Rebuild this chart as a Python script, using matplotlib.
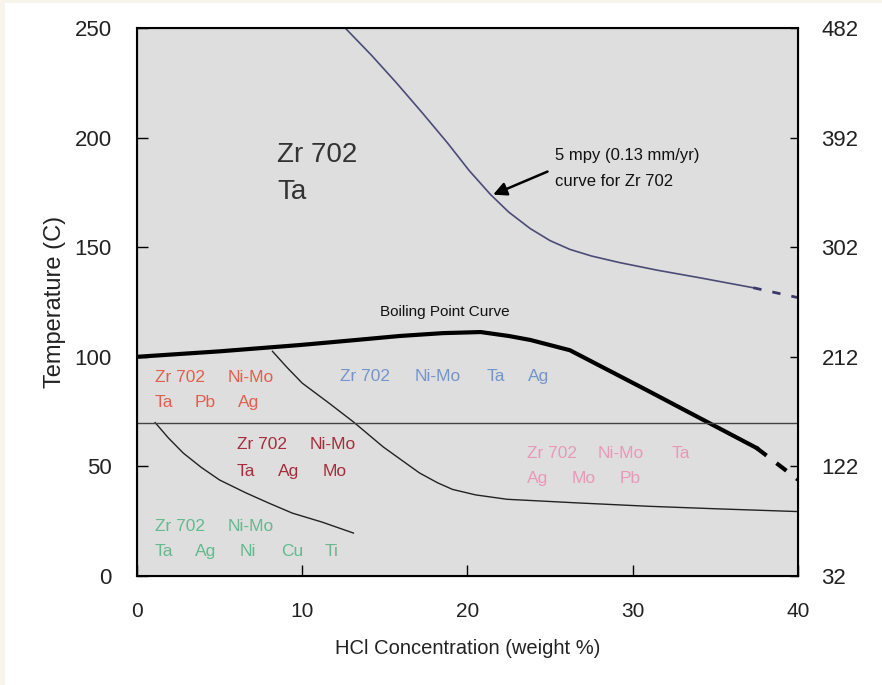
import numpy as np
import matplotlib
matplotlib.use('Agg')
import matplotlib.pyplot as plt
from matplotlib.patches import Rectangle

plt.rcParams['font.family'] = ['Liberation Sans', 'DejaVu Sans']

# 5 mpy iso-corrosion curve for Zr 702
mpy_x = [12.6, 14.2, 15.7, 17.3, 18.8, 20.1, 21.4, 22.5, 23.8, 25.0, 26.2, 27.5, 29.2, 31.5, 34.1, 37.3]
mpy_y = [250, 237.5, 225, 211, 197.5, 185, 174, 166, 158.5, 153, 149, 146, 143, 139.5, 136, 131.5]
mpy_ext_x = [37.3, 40]
mpy_ext_y = [131.5, 127]

# boiling point curve
bp_x = [0, 5, 9.9, 13, 15.9, 18.5, 20.8, 22.5, 23.8, 26.2, 30.8, 37.5]
bp_y = [100, 102.5, 105.4, 107.5, 109.5, 110.8, 111.3, 109.5, 107.7, 103, 85, 58.4]
bp_ext_x = [37.5, 40]
bp_ext_y = [58.4, 44]

# upper boundary curve
a_x = [8.2, 9.1, 10.0, 11.6, 13.1, 14.9, 17.1, 18.2, 19.1, 20.5, 22.4, 26.8, 31, 35.3, 40]
a_y = [102.5, 95, 88, 79, 70.3, 58.9, 47, 42.5, 39.5, 37, 35, 33.3, 31.8, 30.6, 29.4]

# lower boundary curve
b_x = [1.1, 1.9, 2.8, 3.9, 5.0, 6.6, 8.0, 9.4, 11.2, 13.1]
b_y = [70, 63, 56.1, 49.5, 43.8, 37.9, 33.2, 28.7, 24.6, 19.6]

# horizontal 70 C line
h_x = [0, 40]
h_y = [70, 70]

xticks = [0, 10, 20, 30, 40]
yticks = [0, 50, 100, 150, 200, 250]
fticks = [32, 122, 212, 302, 392, 482]

# region labels: (word, x, y)
red_words = [('Zr 702', 1.09, 90.5), ('Ni-Mo', 5.5, 90.5), ('Ta', 1.09, 79), ('Pb', 3.5, 79), ('Ag', 6.1, 79)]
blue_words = [('Zr 702', 12.28, 90.8), ('Ni-Mo', 16.82, 90.8), ('Ta', 21.18, 90.8), ('Ag', 23.66, 90.8)]
dred_words = [('Zr 702', 6.05, 59.8), ('Ni-Mo', 10.47, 59.8), ('Ta', 6.05, 47.9), ('Ag', 8.55, 47.9), ('Mo', 11.26, 47.9)]
pink_words = [('Zr 702', 23.58, 56.1), ('Ni-Mo', 27.9, 56.1), ('Ta', 32.37, 56.1), ('Ag', 23.58, 44.3), ('Mo', 26.3, 44.3), ('Pb', 29.23, 44.3)]
green_words = [('Zr 702', 1.09, 22.8), ('Ni-Mo', 5.5, 22.8), ('Ta', 1.09, 11.4), ('Ag', 3.5, 11.4), ('Ni', 6.23, 11.4), ('Cu', 8.75, 11.4), ('Ti', 11.38, 11.4)]

fig = plt.figure(figsize=(8.82, 6.85), dpi=100)
fig.patch.set_facecolor('white')
# cream border strips
fig.patches.append(Rectangle((0, 0), 0.006, 1, transform=fig.transFigure, facecolor='#f7f4ec', edgecolor='none'))
fig.patches.append(Rectangle((0, 0.995), 1, 0.005, transform=fig.transFigure, facecolor='#f7f4ec', edgecolor='none'))

ax = fig.add_axes([0.1553, 0.1591, 0.7494, 0.8])
ax.set_facecolor('#dedede')

ax.plot(mpy_x, mpy_y, color='#4b4b78', lw=1.2)
ax.plot(mpy_ext_x, mpy_ext_y, color='#3a3a6a', lw=2, ls=(0, (3, 4)))
ax.plot(bp_x, bp_y, color='black', lw=3)
ax.plot(bp_ext_x, bp_ext_y, color='black', lw=3, ls=(0, (3, 3)))
ax.plot(a_x, a_y, color='#222222', lw=1)
ax.plot(b_x, b_y, color='#222222', lw=1)
ax.plot(h_x, h_y, color='#444444', lw=1)

ax.set_xlim(0, 40)
ax.set_ylim(0, 250)
ax.set_xticks(xticks)
ax.set_yticks(yticks)
ax.tick_params(direction='in', length=8, width=1)
for lab in ax.get_yticklabels():
    lab.set_fontsize(16)
    lab.set_color('#222222')
for lab in ax.get_xticklabels():
    lab.set_fontsize(15)
    lab.set_color('#222222')
ax.tick_params(axis='x', pad=19)
ax.tick_params(axis='y', pad=18)
for s in ax.spines.values():
    s.set_linewidth(1.5)

ax.set_xlabel('HCl Concentration (weight %)', fontsize=14.5, color='#222222', labelpad=13)
ax.set_ylabel('Temperature (C)', fontsize=17, color='#222222', labelpad=6)

ax2 = ax.twinx()
ax2.set_ylim(32, 482)
ax2.set_yticks(fticks)
ax2.tick_params(direction='in', length=6, width=1, pad=17)
for lab in ax2.get_yticklabels():
    lab.set_fontsize(16)
    lab.set_color('#222222')

ax.text(8.5, 192, 'Zr 702', fontsize=20, color='#333333', va='center')
ax.text(8.5, 175, 'Ta', fontsize=20, color='#333333', va='center')

ax.text(18.6, 120.5, 'Boiling Point Curve', fontsize=11, color='#111111', ha='center', va='center')

ax.annotate('', xy=(21.4, 173.5), xytext=(25.0, 185),
            arrowprops=dict(arrowstyle='-|>', color='black', lw=1.8, mutation_scale=20))
ax.text(25.3, 192, '5 mpy (0.13 mm/yr)', fontsize=12, color='#111111', va='center')
ax.text(25.3, 180, 'curve for Zr 702', fontsize=12, color='#111111', va='center')

fs = 12.5
for words, col in [(red_words, '#e0604e'), (blue_words, '#7495cc'), (dred_words, '#a82c3c'),
                   (pink_words, '#e899b8'), (green_words, '#64b98e')]:
    for w, x, y in words:
        ax.text(x, y, w, fontsize=fs, color=col, va='center')

fig.savefig('out.png', dpi=100)
